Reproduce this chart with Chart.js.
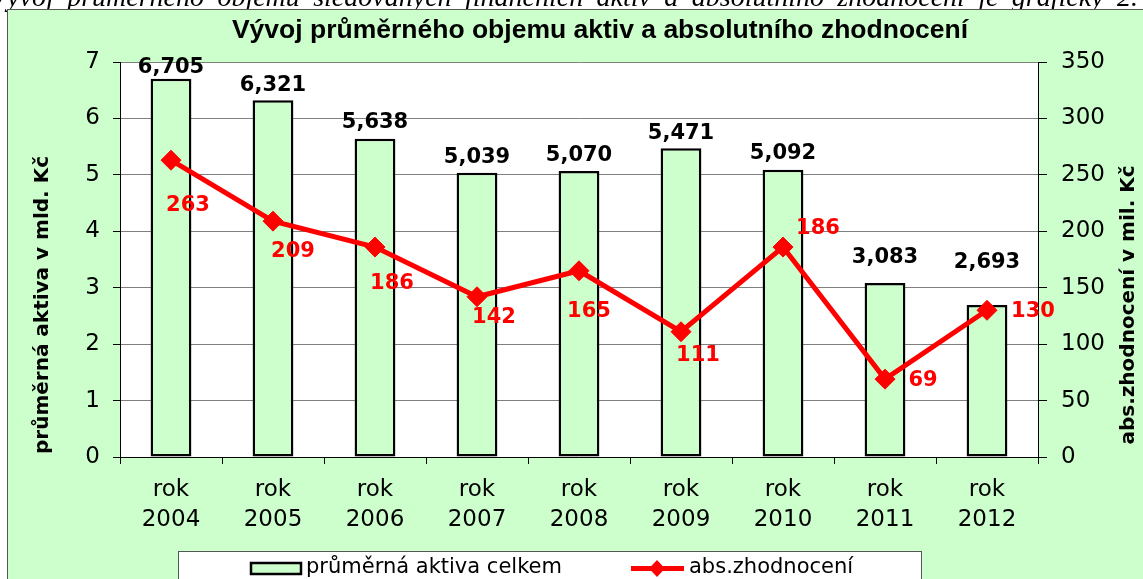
<!DOCTYPE html>
<html>
<head>
<meta charset="utf-8">
<script src="https://cdn.jsdelivr.net/npm/chart.js@4.4.1/dist/chart.umd.min.js"></script>
<style>
  body { margin: 0; background: #fff; overflow: hidden; }
</style>
</head>
<body>
<canvas id="myChart" width="1143" height="579"></canvas>
<script>
//Chart data
const years = ['2004', '2005', '2006', '2007', '2008', '2009', '2010', '2011', '2012'];
const assets = [6.705, 6.321, 5.638, 5.039, 5.070, 5.471, 5.092, 3.083, 2.693]; // mld. Kc
const gains = [263, 209, 186, 142, 165, 111, 186, 69, 130]; // mil. Kc
const assetTicks = { min: 0, max: 7, step: 1 };
const gainTicks = { min: 0, max: 350, step: 50 };

const titleText = 'Vývoj průměrného objemu aktiv a absolutního zhodnocení';
const leftTitle = 'průměrná aktiva v mld. Kč';
const rightTitle = 'abs.zhodnocení v mil. Kč';
const introText = 'Vývoj průměrného objemu sledovaných finančních aktiv a absolutního zhodnocení je grafický 2.';

//how far the black labels sit above the bar tops
const assetLabelLift = [11, 15, 16, 15, 15, 15, 16, 25, 42];
//where the red labels sit next to their points (dx, dy)
const gainLabelOffset = [[17, 45], [20, 30], [17, 36], [17, 21], [10, 41], [17, 24], [35, -19], [38, 1], [46, 1]];

const green = '#ccffcc';
const red = '#ff0000';
const font = 'DejaVu Sans';

let labels = years.map(y => ['rok', y]);

//Uses czech decimal comma
function czNumber(v) {
  return v.toFixed(3).replace('.', ',');
}

const decor = {
  id: 'decor',
  beforeDraw(chart) {
    const ctx = chart.ctx, a = chart.chartArea;
    ctx.save();
    ctx.fillStyle = '#fff';
    ctx.fillRect(0, 0, chart.width, chart.height);

    //cut off line of text above the chart, spread over the width
    ctx.fillStyle = '#000';
    ctx.font = 'italic 28px "Liberation Serif"';
    ctx.textBaseline = 'alphabetic';
    let words = introText.split(' ');
    let widths = words.map(w => ctx.measureText(w).width);
    let total = widths.reduce((s, w) => s + w, 0);
    let x0 = -10, x1 = 1138;
    let gap = (x1 - x0 - total) / (words.length - 1);
    let x = x0;
    words.forEach((w, i) => { ctx.fillText(w, x, 6); x += widths[i] + gap; });

    //outer green panel
    ctx.fillStyle = green;
    ctx.fillRect(7, 10, chart.width, chart.height);
    ctx.strokeStyle = '#555';
    ctx.lineWidth = 1;
    ctx.strokeRect(7.5, 9.5, chart.width + 10, chart.height + 10);

    //white plot area
    ctx.fillStyle = '#fff';
    ctx.fillRect(a.left, a.top, a.right - a.left, a.bottom - a.top);
    ctx.restore();
  },
  afterDatasetsDraw(chart) {
    const ctx = chart.ctx;
    ctx.save();
    ctx.textAlign = 'center';
    ctx.textBaseline = 'middle';
    ctx.font = 'bold 21px "' + font + '"';

    let bars = chart.getDatasetMeta(1).data;
    ctx.fillStyle = '#000';
    bars.forEach((el, i) => ctx.fillText(czNumber(assets[i]), el.x, el.y - assetLabelLift[i]));

    let pts = chart.getDatasetMeta(0).data;
    ctx.fillStyle = red;
    pts.forEach((el, i) => ctx.fillText(String(gains[i]), el.x + gainLabelOffset[i][0], el.y + gainLabelOffset[i][1]));
    ctx.restore();
  },
  afterDraw(chart) {
    const ctx = chart.ctx;
    ctx.save();
    ctx.fillStyle = '#000';
    ctx.textAlign = 'center';
    ctx.textBaseline = 'middle';

    ctx.font = 'bold 26.5px "Liberation Sans"';
    ctx.fillText(titleText, 600, 31);

    ctx.font = 'bold 20px "' + font + '"';
    [[leftTitle, 43], [rightTitle, 1129]].forEach(([t, x]) => {
      ctx.save();
      ctx.translate(x, 305);
      ctx.rotate(-Math.PI / 2);
      ctx.fillText(t, 0, 0);
      ctx.restore();
    });

    //legend box
    ctx.fillStyle = '#fff';
    ctx.fillRect(178, 551, 743, 40);
    ctx.strokeStyle = '#555';
    ctx.lineWidth = 1;
    ctx.strokeRect(178.5, 551.5, 743, 40);

    let barSet = chart.data.datasets[1], lineSet = chart.data.datasets[0];
    ctx.fillStyle = green;
    ctx.fillRect(250, 562, 52, 13);
    ctx.strokeStyle = '#000';
    ctx.lineWidth = 2.5;
    ctx.strokeRect(251, 563, 50, 11);

    ctx.strokeStyle = red;
    ctx.lineWidth = 5;
    ctx.beginPath();
    ctx.moveTo(631, 568.5);
    ctx.lineTo(684, 568.5);
    ctx.stroke();
    ctx.fillStyle = red;
    ctx.beginPath();
    ctx.moveTo(657, 560); ctx.lineTo(665, 568.5); ctx.lineTo(657, 577); ctx.lineTo(649, 568.5);
    ctx.closePath();
    ctx.fill();

    ctx.fillStyle = '#000';
    ctx.textAlign = 'left';
    ctx.font = '21px "' + font + '"';
    ctx.fillText(barSet.label, 306, 568);
    ctx.fillText(lineSet.label, 689, 568);
    ctx.restore();
  }
};

const tickFont = { family: font, size: 23, lineHeight: 1.3 };

let ctx = document.getElementById('myChart').getContext('2d');
let myChart = new Chart(ctx, {
  data: {
    labels: labels,
    datasets: [{
      type: 'line',
      label: 'abs.zhodnocení',
      data: gains,
      yAxisID: 'y1',
      order: 0,
      borderColor: red,
      backgroundColor: red,
      borderWidth: 5,
      pointStyle: 'rectRot',
      pointRadius: 10,
      pointBorderWidth: 1,
      pointBackgroundColor: red,
      pointBorderColor: red,
      tension: 0
    }, {
      type: 'bar',
      label: 'průměrná aktiva celkem',
      data: assets,
      yAxisID: 'y',
      order: 1,
      backgroundColor: green,
      borderColor: '#000',
      borderWidth: 2.5,
      borderSkipped: false,
      barPercentage: 0.4,
      categoryPercentage: 1
    }]
  },
  options: {
    responsive: false,
    animation: false,
    devicePixelRatio: 1,
    layout: { padding: { top: 62, bottom: 22, left: 0, right: 0 } },
    plugins: {
      legend: { display: false },
      tooltip: { enabled: false },
      title: { display: false }
    },
    scales: {
      x: {
        offset: true,
        grid: { offset: true, drawOnChartArea: false, tickLength: 7, color: '#000', tickColor: '#000' },
        border: { color: '#000', width: 1 },
        ticks: { color: '#000', font: tickFont, padding: 11, maxRotation: 0, autoSkip: false },
        afterFit(s) { s.height = 100; }
      },
      y: {
        position: 'left',
        min: assetTicks.min,
        max: assetTicks.max,
        ticks: { stepSize: assetTicks.step, color: '#000', font: tickFont, padding: 13 },
        grid: { color: '#808080', tickColor: '#000', tickLength: 7 },
        border: { color: '#000', width: 1 },
        afterFit(s) { s.width = 120; }
      },
      y1: {
        position: 'right',
        min: gainTicks.min,
        max: gainTicks.max,
        ticks: { stepSize: gainTicks.step, color: '#000', font: tickFont, padding: 14 },
        grid: { drawOnChartArea: false, tickColor: '#000', tickLength: 9 },
        border: { color: '#000', width: 1 },
        afterFit(s) { s.width = 105; }
      }
    }
  },
  plugins: [decor]
});
</script>
</body>
</html>
